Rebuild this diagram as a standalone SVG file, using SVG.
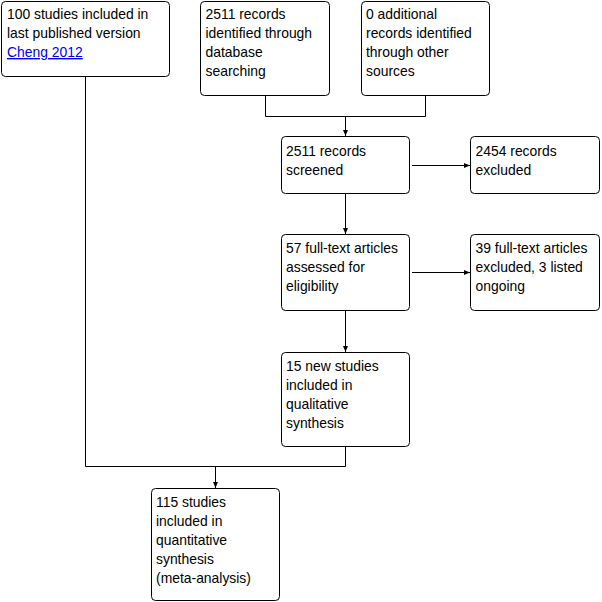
<svg xmlns="http://www.w3.org/2000/svg" width="602" height="602" viewBox="0 0 602 602">
<defs>
<style>
.box{fill:#fff;stroke:#000;stroke-width:1}
.t{font-family:"Liberation Sans",Arial,sans-serif;font-size:13.9px;fill:#000}
.lk{fill:#0000ee;text-decoration:underline}
.c{fill:none;stroke:#000;stroke-width:1}
</style>
<marker id="ah" markerUnits="userSpaceOnUse" markerWidth="8" markerHeight="8" viewBox="0 0 8 8" refX="7" refY="4" orient="auto">
<path d="M1,1.5 L7,4 L1,6.5 Z" fill="#000"/>
</marker>
</defs>
<rect width="602" height="602" fill="#fff"/>
<g id="connectors">
<path class="c" d="M265.5,95.5 V116.5 H425.5 V95.5"/>
<path class="c" d="M345.5,116.5 V136" marker-end="url(#ah)"/>
<path class="c" d="M345.5,193.5 V234" marker-end="url(#ah)"/>
<path class="c" d="M412,165.5 H470" marker-end="url(#ah)"/>
<path class="c" d="M412,272.5 H470" marker-end="url(#ah)"/>
<path class="c" d="M345.5,310.5 V352" marker-end="url(#ah)"/>
<path class="c" d="M345.5,446.5 V466.5 H85.5 V76.5"/>
<path class="c" d="M215.5,466.5 V488" marker-end="url(#ah)"/>
</g>
<g id="n1">
<rect class="box" x="1.5" y="1.5" width="168" height="75" rx="4"/>
<text class="t" x="7" y="19">100 studies included in</text>
<text class="t" x="7" y="38">last published version</text>
<text class="t lk" x="7" y="57">Cheng 2012</text>
</g>
<g id="n2">
<rect class="box" x="200.5" y="1.5" width="129" height="94" rx="4"/>
<text class="t" x="205.5" y="19">2511 records</text>
<text class="t" x="205.5" y="38">identified through</text>
<text class="t" x="205.5" y="57">database</text>
<text class="t" x="205.5" y="76">searching</text>
</g>
<g id="n3">
<rect class="box" x="361.5" y="1.5" width="128" height="94" rx="4"/>
<text class="t" x="366" y="19">0 additional</text>
<text class="t" x="366" y="38">records identified</text>
<text class="t" x="366" y="57">through other</text>
<text class="t" x="366" y="76">sources</text>
</g>
<g id="n4">
<rect class="box" x="281.5" y="136.5" width="128" height="57" rx="4"/>
<text class="t" x="286" y="156">2511 records</text>
<text class="t" x="286" y="175">screened</text>
</g>
<g id="n5">
<rect class="box" x="470.5" y="136.5" width="129" height="57" rx="4"/>
<text class="t" x="475.5" y="156">2454 records</text>
<text class="t" x="475.5" y="175">excluded</text>
</g>
<g id="n6">
<rect class="box" x="281.5" y="234.5" width="128" height="76" rx="4"/>
<text class="t" x="286" y="253">57 full-text articles</text>
<text class="t" x="286" y="272">assessed for</text>
<text class="t" x="286" y="291">eligibility</text>
</g>
<g id="n7">
<rect class="box" x="470.5" y="234.5" width="129" height="76" rx="4"/>
<text class="t" x="475.5" y="253">39 full-text articles</text>
<text class="t" x="475.5" y="272">excluded, 3 listed</text>
<text class="t" x="475.5" y="291">ongoing</text>
</g>
<g id="n8">
<rect class="box" x="281.5" y="352.5" width="128" height="94" rx="4"/>
<text class="t" x="286" y="371">15 new studies</text>
<text class="t" x="286" y="390">included in</text>
<text class="t" x="286" y="409">qualitative</text>
<text class="t" x="286" y="428">synthesis</text>
</g>
<g id="n9">
<rect class="box" x="151.5" y="488.5" width="128" height="112" rx="4"/>
<text class="t" x="156" y="507">115 studies</text>
<text class="t" x="156" y="526">included in</text>
<text class="t" x="156" y="545">quantitative</text>
<text class="t" x="156" y="564">synthesis</text>
<text class="t" x="156" y="583">(meta-analysis)</text>
</g>
</svg>
